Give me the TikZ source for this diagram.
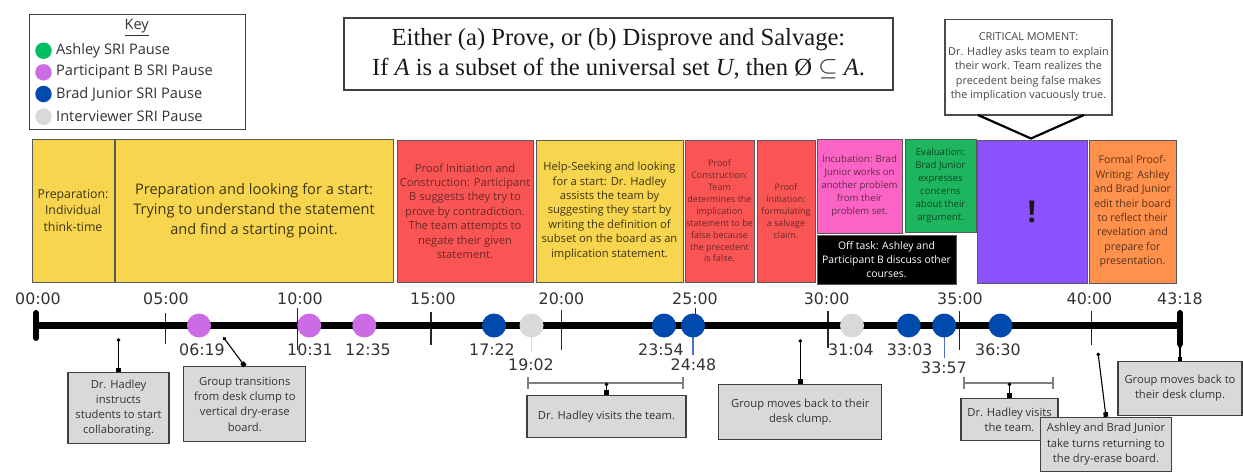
\documentclass[tikz,border=0pt]{standalone}
\usepackage{fontspec}
\setmainfont{Open Sans}
\newfontfamily\timefont{DejaVu Sans}
\newfontfamily\titlefont{Liberation Serif}
\usetikzlibrary{arrows.meta,calc}

\definecolor{cyellow}{HTML}{F7D54F}
\definecolor{cred}{HTML}{FA5555}
\definecolor{cpink}{HTML}{FB64C4}
\definecolor{cgreenbox}{HTML}{1DB55E}
\definecolor{cpurplebox}{HTML}{8C52FF}
\definecolor{corange}{HTML}{FF914D}
\definecolor{cashley}{HTML}{00BF63}
\definecolor{cpartb}{HTML}{CB6CE6}
\definecolor{cbrad}{HTML}{004AAD}
\definecolor{cinter}{HTML}{D9D9D9}
\definecolor{cnote}{HTML}{D9D9D9}
\definecolor{cbrk}{HTML}{808080}
\definecolor{cblueline}{HTML}{4A6FCF}

\tikzset{
  stage/.style={draw=black!65, line width=0.9pt, inner sep=0pt, align=center},
  keytext/.style={inner sep=0pt, text=black!80, font=\fontsize{14.6}{16}\selectfont},
  sri/.style={circle, inner sep=0pt, minimum size=24pt},
  keydot/.style={circle, inner sep=0pt, minimum size=16.5pt},
  tlabel/.style={inner sep=0pt, text=black!80, font=\timefont\fontsize{15.8}{17}\selectfont},
  tick/.style={line width=1.2pt, black!85},
  note/.style={draw=black!75, line width=1.1pt, fill=cnote, text=black!80, inner sep=0pt,
    align=center, font=\fontsize{11.2}{15.2}\selectfont},
  ptr/.style={line width=1.1pt, black, {Circle[length=3.5pt]}-{Square[length=4.5pt,width=4.5pt]}},
  brk/.style={line width=2.4pt, cbrk, {Bar[width=12pt]}-{Bar[width=12pt]}},
}

\begin{document}
\begin{tikzpicture}[x=1pt,y=-1pt]
\useasboundingbox (0,0) rectangle (1243,472);
\fill[white] (0,0) rectangle (1243,472);

% ---------- key ----------
\node[draw=black!75, line width=1.1pt, minimum width=216pt, minimum height=115pt, inner sep=0pt] (key) at (137.5,71.7) {};
\node[keytext] (keyhead) at (136.7,27.5) {\underline{Key}};
\node[keydot, fill=cashley] (k1) at (43.5,50.7) {};
\node[keytext, anchor=west] (k1t) at (56,50.7) {Ashley SRI Pause};
\node[keydot, fill=cpartb] (k2) at (43.5,72.3) {};
\node[keytext, anchor=west] (k2t) at (56,72.3) {Participant B SRI Pause};
\node[keydot, fill=cbrad] (k3) at (43.5,94) {};
\node[keytext, anchor=west] (k3t) at (56,94) {Brad Junior SRI Pause};
\node[keydot, fill=cinter] (k4) at (43.5,116.7) {};
\node[keytext, anchor=west] (k4t) at (56,116.7) {Interviewer SRI Pause};

% ---------- task statement ----------
\node[draw=black!75, line width=1.3pt, minimum width=549pt, minimum height=72pt, inner sep=0pt,
  align=center, font=\titlefont\fontsize{24.6}{30}\selectfont, text=black!90] (task) at (618.5,54)
  {Either (a) Prove, or (b) Disprove and Salvage:\\
   If \textit{A} is a subset of the universal set \textit{U}, then Ø $\subseteq$ \textit{A}.};

% ---------- critical moment ----------
\node[draw=black!70, line width=1.3pt, fill=white, minimum width=167pt, minimum height=95.7pt, inner sep=0pt,
  align=center, text=black!72, font=\fontsize{10.9}{14.5}\selectfont] (crit) at (1028.5,67.2)
  {CRITICAL MOMENT:\\Dr. Hadley asks team to explain\\their work. Team realizes the\\precedent being false makes\\the implication vacuously true.};
\coordinate (vl) at (978,115);
\coordinate (va) at (1031,138.5);
\coordinate (vr) at (1084,115);
\draw[line width=2.2pt, black] (vl) -- (va) -- (vr);

% ---------- stages ----------
\node[stage, fill=cyellow, text=cyellow!25!black, minimum width=82pt, minimum height=143pt,
  font=\fontsize{12.3}{16.3}\selectfont] (s1) at (73,210.5)
  {Preparation:\\Individual\\think-time};
\node[stage, fill=cyellow, text=cyellow!25!black, minimum width=278pt, minimum height=143pt,
  font=\fontsize{14.6}{20}\selectfont] (s2) at (254,210.5)
  {Preparation and looking for a start:\\Trying to understand the statement\\and find a starting point.};
\node[stage, fill=cred, text=cred!45!black, minimum width=136pt, minimum height=142pt,
  font=\fontsize{11.2}{14.4}\selectfont] (s3) at (465,211)
  {Proof Initiation and\\Construction: Participant\\B suggests they try to\\prove by contradiction.\\The team attempts to\\negate their given\\statement.};
\node[stage, fill=cyellow, text=cyellow!25!black, minimum width=147pt, minimum height=142pt,
  font=\fontsize{11.2}{14.4}\selectfont] (s4) at (609.5,211)
  {Help-Seeking and looking\\for a start: Dr. Hadley\\assists the team by\\suggesting they start by\\writing the definition of\\subset on the board as an\\implication statement.};
\node[stage, fill=cred, text=cred!45!black, minimum width=69pt, minimum height=142pt,
  font=\fontsize{9}{11.9}\selectfont] (s5) at (719.5,211)
  {Proof\\Construction:\\Team\\determines the\\implication\\statement to be\\false because\\the precedent\\is false.};
\node[stage, fill=cred, text=cred!45!black, minimum width=58pt, minimum height=142pt,
  font=\fontsize{9}{12.1}\selectfont] (s6) at (786,211)
  {Proof\\Initiation:\\formulating\\a salvage\\claim.};
\node[stage, fill=cpink, text=cpink!40!black, minimum width=85pt, minimum height=94pt,
  font=\fontsize{9.6}{13.1}\selectfont] (s7) at (859.5,186)
  {Incubation: Brad\\Junior works on\\another problem\\from their\\problem set.};
\node[stage, fill=cgreenbox, text=cgreenbox!40!black, minimum width=71pt, minimum height=93pt,
  font=\fontsize{9.6}{12.9}\selectfont] (s8) at (940.5,185.5)
  {Evaluation:\\Brad Junior\\expresses\\concerns\\about their\\argument.};
\node[stage, fill=black, text=white, minimum width=139pt, minimum height=49pt,
  font=\fontsize{10.4}{14.2}\selectfont] (s9) at (886.5,259.5)
  {Off task: Ashley and\\Participant B discuss other\\courses.};
\node[stage, fill=cpurplebox, text=black!90, minimum width=110pt, minimum height=143pt,
  font=\bfseries\fontsize{30}{30}\selectfont] (s10) at (1032,211.5) {!};
\node[stage, fill=corange, text=corange!35!black, minimum width=87pt, minimum height=143pt,
  font=\fontsize{10.6}{14.4}\selectfont] (s11) at (1132.5,211.5)
  {Formal Proof-\\Writing: Ashley\\and Brad Junior\\edit their board\\to reflect their\\revelation and\\prepare for\\presentation.};

% ---------- timeline ----------
\coordinate (t0) at (36,325.5);
\coordinate (t1) at (1180,325.5);
\draw[tick] (165.7,313) -- (165.7,344);
\draw[tick] (297.7,308) -- (297.7,350);
\draw[tick] (431,312) -- (431,345);
\draw[tick] (561.5,310) -- (561.5,350);
\draw[tick] (695.2,308) -- (695.2,330);
\draw[tick] (828,311) -- (828,348);
\draw[tick] (959.4,311) -- (959.4,350);
\draw[tick] (1091.8,311) -- (1091.8,345);
\draw[line width=7.5pt, black] (t0) -- (t1);
\draw[line width=6pt, line cap=round, black] (36,313) -- (36,338);
\draw[line width=6pt, line cap=round, black] (1180,313) -- (1180,344);

% minute marks
\node[tlabel] (m00) at (38,299) {00:00};
\node[tlabel] (m05) at (166,299) {05:00};
\node[tlabel] (m10) at (300,299) {10:00};
\node[tlabel] (m15) at (433,299) {15:00};
\node[tlabel] (m20) at (561.5,299) {20:00};
\node[tlabel] (m25) at (695,299) {25:00};
\node[tlabel] (m30) at (826.6,299) {30:00};
\node[tlabel] (m35) at (960,299) {35:00};
\node[tlabel] (m40) at (1089.5,299) {40:00};
\node[tlabel] (m43) at (1180,299) {43:18};

% pauses
\node[sri, fill=cpartb] (c0619) at (199,325.5) {};
\node[sri, fill=cpartb] (c1031) at (309.3,325.5) {};
\node[sri, fill=cpartb] (c1235) at (364.3,325.5) {};
\node[sri, fill=cbrad] (c1722) at (494,325.5) {};
\draw[line width=1.8pt, cinter] (531.5,330) -- (531.5,352);
\node[sri, fill=cinter] (c1902) at (531.5,325.5) {};
\node[sri, fill=cbrad] (c2354) at (664,325.5) {};
\draw[line width=1.1pt, cblueline] (693,330) -- (693,355);
\node[sri, fill=cbrad] (c2448) at (693,325.5) {};
\node[sri, fill=cinter] (c3104) at (852,325.5) {};
\node[sri, fill=cbrad] (c3303) at (908.7,325.5) {};
\draw[line width=1.1pt, cblueline] (944.2,330) -- (944.2,358);
\node[sri, fill=cbrad] (c3357) at (944.2,325.5) {};
\node[sri, fill=cbrad] (c3630) at (1000.5,325.5) {};

\node[tlabel] (l0619) at (202,349.5) {06:19};
\node[tlabel] (l1031) at (310,349.5) {10:31};
\node[tlabel] (l1235) at (368,349.5) {12:35};
\node[tlabel] (l1722) at (492,349.5) {17:22};
\node[tlabel] (l1902) at (531,365) {19:02};
\node[tlabel] (l2354) at (661,349.5) {23:54};
\node[tlabel] (l2448) at (693.5,365) {24:48};
\node[tlabel] (l3104) at (851,349.5) {31:04};
\node[tlabel] (l3303) at (909.6,349.5) {33:03};
\node[tlabel] (l3357) at (944,368) {33:57};
\node[tlabel] (l3630) at (998,349.5) {36:30};

% ---------- events below the line ----------
\node[note, minimum width=101pt, minimum height=70.6pt] (nA) at (118.5,408)
  {Dr. Hadley\\instructs\\students to start\\collaborating.};
\coordinate (pa) at (118.5,338.3);
\draw[ptr] (pa) -- (nA.north);

\node[note, minimum width=121.8pt, minimum height=75pt] (nB) at (244.8,404.2)
  {Group transitions\\from desk clump to\\vertical dry-erase\\board.};
\coordinate (pb) at (223.4,337.3);
\draw[ptr] (pb) -- (nB.north);

\coordinate (b1l) at (527,382.7);
\coordinate (b1r) at (684,382.7);
\coordinate (b1c) at (606.5,382.7);
\draw[brk] (b1l) -- (b1r);
\node[note, minimum width=159pt, minimum height=42.3pt] (nC) at (606.5,416.2)
  {Dr. Hadley visits the team.};
\draw[ptr] (b1c) -- (nC.north);

\node[note, minimum width=162.8pt, minimum height=55.3pt] (nD) at (800.3,411.7)
  {Group moves back to their\\desk clump.};
\coordinate (pd) at (800.3,339.3);
\draw[ptr] (pd) -- (nD.north);

\coordinate (b2l) at (963,382.7);
\coordinate (b2r) at (1054,382.7);
\coordinate (b2c) at (1009.5,382.7);
\draw[brk] (b2l) -- (b2r);
\node[note, minimum width=97pt, minimum height=42.4pt] (nE) at (1009.5,419.5)
  {Dr. Hadley visits\\the team.};
\draw[ptr] (b2c) -- (nE.north);

\node[note, minimum width=130.4pt, minimum height=53.7pt] (nF) at (1106,444.2)
  {Ashley and Brad Junior\\take turns returning to\\the dry-erase board.};
\coordinate (pf) at (1098,352.7);
\draw[ptr] (pf) -- (nF.north);

\node[note, minimum width=124pt, minimum height=53.3pt] (nG) at (1180,388.4)
  {Group moves back to\\their desk clump.};
\coordinate (pg) at (1180,345);
\draw[ptr] (pg) -- (nG.north);

\end{tikzpicture}
\end{document}
